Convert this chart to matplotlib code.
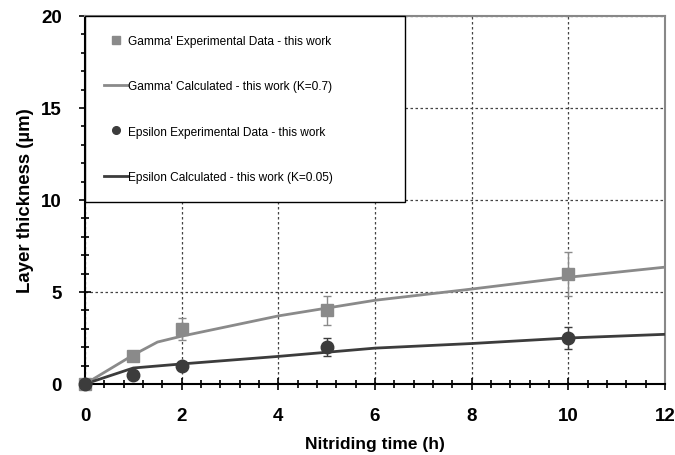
import matplotlib.pyplot as plt
from matplotlib.ticker import MultipleLocator

plt.rcParams['font.family'] = ['Liberation Sans', 'DejaVu Sans']

# experimental data
t_exp = [0, 1, 2, 5, 10]
gamma_exp = [0, 1.5, 3.0, 4.0, 6.0]
gamma_err = [0, 0, 0.6, 0.8, 1.2]
eps_exp = [0, 0.5, 1.0, 2.0, 2.5]
eps_err = [0, 0, 0, 0.5, 0.6]

# calculated curves
t_calc = [0, 1, 1.5, 2, 4, 6, 8, 10, 12]
gamma_calc = [0, 1.58, 2.28, 2.6, 3.7, 4.55, 5.16, 5.8, 6.35]
eps_calc = [0, 0.87, 0.98, 1.09, 1.5, 1.95, 2.2, 2.5, 2.7]

gamma_col = '#8a8a8a'
eps_col = '#3c3c3c'

fig = plt.figure(figsize=(6.75, 4.56), dpi=100)
ax = fig.add_axes([85 / 675, 1 - 385 / 456, 580 / 675, 368 / 456])

# error bars (no legend entry)
ax.errorbar(t_exp, gamma_exp, yerr=gamma_err, fmt='none', ecolor=gamma_col,
            capsize=3, elinewidth=1, zorder=4)
ax.errorbar(t_exp, eps_exp, yerr=eps_err, fmt='none', ecolor=eps_col,
            capsize=3, elinewidth=1, zorder=4)

g_pts, = ax.plot(t_exp, gamma_exp, 's', color=gamma_col, ms=9, clip_on=False, zorder=5,
                 label="Gamma' Experimental Data - this work")
g_line, = ax.plot(t_calc, gamma_calc, color=gamma_col, lw=2, zorder=3,
                  label="Gamma' Calculated - this work (K=0.7)")
e_pts, = ax.plot(t_exp, eps_exp, 'o', color=eps_col, ms=9, clip_on=False, zorder=5,
                 label="Epsilon Experimental Data - this work")
e_line, = ax.plot(t_calc, eps_calc, color=eps_col, lw=2, zorder=3,
                  label="Epsilon Calculated - this work (K=0.05)")

ax.set_xlim(0, 12)
ax.set_ylim(0, 20)
ax.xaxis.set_major_locator(MultipleLocator(2))
ax.xaxis.set_minor_locator(MultipleLocator(0.4))
ax.yaxis.set_major_locator(MultipleLocator(5))
ax.yaxis.set_minor_locator(MultipleLocator(1))
ax.tick_params(which='major', direction='inout', length=9, width=1.2,
               labelsize=13.5, pad=12)
ax.tick_params(which='minor', direction='inout', length=6, width=1.2)
for lab in ax.get_xticklabels() + ax.get_yticklabels():
    lab.set_fontweight('bold')

ax.grid(True, which='major', color='#444444', linestyle=(0, (2, 2)), lw=0.9)
ax.set_axisbelow(True)
ax.spines['left'].set_linewidth(1.5)
ax.spines['bottom'].set_linewidth(1.5)
ax.spines['top'].set_color('#888888')
ax.spines['right'].set_color('#888888')
ax.spines['top'].set_linewidth(1.5)
ax.spines['right'].set_linewidth(1.5)

ax.set_xlabel('Nitriding time (h)', fontsize=12.5, fontweight='bold', labelpad=9)
ax.set_ylabel('Layer thickness (\u00b5m)', fontsize=13.4, fontweight='bold', labelpad=5)

leg = ax.legend([g_pts, g_line, e_pts, e_line],
                [h.get_label() for h in (g_pts, g_line, e_pts, e_line)],
                loc='upper left', bbox_to_anchor=(0, 1, 320 / 580, 0), mode='expand',
                borderaxespad=0, fontsize=8.6, labelspacing=2.78, borderpad=1.6,
                handlelength=2.0, handletextpad=0.0, fancybox=False,
                edgecolor='black', framealpha=1)
leg.get_frame().set_linewidth(1.0)
for h in leg.legend_handles:
    h.set_markersize(5.5)

fig.savefig('out.png', dpi=100)
